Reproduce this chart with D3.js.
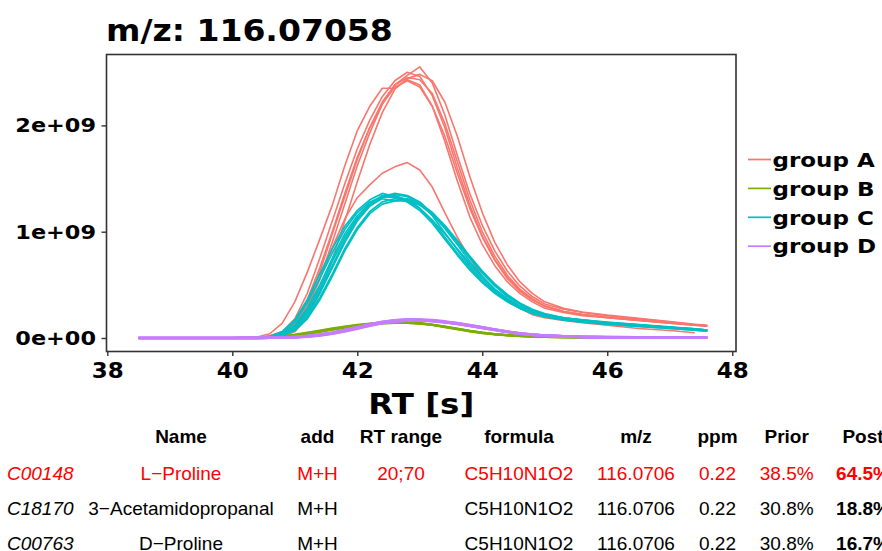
<!DOCTYPE html>
<html>
<head>
  <meta charset="utf-8">
  <script src="https://d3js.org/d3.v7.min.js"></script>
  <style>
    body { margin: 0; background: #fff; }
    .bold { font-family: "DejaVu Sans", sans-serif; font-weight: bold; fill: #000; }
    .tbl { font-family: "Liberation Sans", Arial, sans-serif; font-size: 19px; }
  </style>
</head>
<body>
<div id="chart"></div>
<script>
  // retention time grid (s) shared by all traces
  const rt = [38.5, 40.0, 40.4, 40.6, 40.8, 41.0, 41.2, 41.4, 41.6, 41.8, 42.0, 42.2, 42.4, 42.6, 42.8, 43.0,
    43.2, 43.4, 43.6, 43.8, 44.0, 44.2, 44.4, 44.6, 44.8, 45.0, 45.3, 45.6, 46.0, 46.5, 47.0, 47.4, 47.6]

  // intensities in units of 1e9
  const groupA = [
    [0, 0, 0.005, 0.01, 0.03, 0.10, 0.28, 0.56, 0.90, 1.26, 1.62, 1.93, 2.20, 2.38, 2.47, 2.55, 2.40, 2.10, 1.72, 1.36, 1.06, 0.82, 0.63, 0.49, 0.39, 0.32, 0.27, 0.24, 0.21, 0.18, 0.15, 0.125, 0.115],
    [0, 0, 0.005, 0.02, 0.06, 0.18, 0.42, 0.75, 1.10, 1.45, 1.78, 2.05, 2.27, 2.42, 2.50, 2.46, 2.28, 1.98, 1.60, 1.25, 0.96, 0.74, 0.57, 0.45, 0.36, 0.30, 0.25, 0.22, 0.195, 0.17, 0.145, 0.125, 0.115],
    [0, 0, 0.01, 0.04, 0.14, 0.34, 0.62, 0.93, 1.25, 1.62, 1.95, 2.18, 2.35, 2.35, 2.43, 2.38, 2.18, 1.85, 1.48, 1.14, 0.88, 0.68, 0.53, 0.42, 0.34, 0.28, 0.24, 0.21, 0.19, 0.165, 0.14, 0.12, 0.11],
    [0, 0, 0.003, 0.015, 0.05, 0.15, 0.36, 0.66, 1.00, 1.36, 1.70, 1.98, 2.20, 2.36, 2.42, 2.36, 2.18, 1.90, 1.55, 1.22, 0.95, 0.73, 0.56, 0.44, 0.36, 0.30, 0.25, 0.22, 0.195, 0.17, 0.145, 0.125, 0.115],
    [0, 0, 0.002, 0.006, 0.02, 0.06, 0.19, 0.42, 0.74, 1.10, 1.47, 1.82, 2.12, 2.34, 2.44, 2.48, 2.42, 2.22, 1.90, 1.52, 1.18, 0.90, 0.69, 0.53, 0.42, 0.34, 0.28, 0.245, 0.215, 0.185, 0.155, 0.13, 0.12],
    [0, 0, 0.004, 0.012, 0.04, 0.13, 0.33, 0.62, 0.98, 1.33, 1.68, 1.98, 2.22, 2.38, 2.45, 2.43, 2.30, 2.02, 1.66, 1.30, 1.00, 0.77, 0.59, 0.46, 0.37, 0.30, 0.25, 0.22, 0.19, 0.165, 0.14, 0.12, 0.11],
    [0, 0, 0, 0.01, 0.04, 0.12, 0.30, 0.55, 0.85, 1.12, 1.32, 1.44, 1.55, 1.61, 1.65, 1.58, 1.42, 1.18, 0.95, 0.75, 0.58, 0.45, 0.35, 0.28, 0.22, 0.19, 0.165, 0.145, 0.12, 0.09, 0.07, 0.05, null]
  ]
  const groupB = [
    [0, 0, 0.002, 0.006, 0.014, 0.028, 0.045, 0.065, 0.085, 0.105, 0.12, 0.133, 0.142, 0.146, 0.145, 0.14, 0.126, 0.108, 0.088, 0.068, 0.05, 0.037, 0.027, 0.02, 0.015, 0.011, 0.008, 0.006, 0.004, 0.003, 0.003, 0.002, 0.002],
    [0, 0, 0.001, 0.004, 0.01, 0.022, 0.038, 0.057, 0.078, 0.098, 0.115, 0.128, 0.138, 0.142, 0.142, 0.136, 0.122, 0.104, 0.084, 0.065, 0.048, 0.035, 0.026, 0.019, 0.014, 0.01, 0.007, 0.005, 0.004, 0.003, 0.002, 0.002, 0.002],
    [0, 0, 0.002, 0.007, 0.016, 0.031, 0.05, 0.07, 0.09, 0.108, 0.124, 0.136, 0.145, 0.148, 0.146, 0.138, 0.122, 0.102, 0.082, 0.062, 0.046, 0.034, 0.025, 0.018, 0.013, 0.01, 0.007, 0.005, 0.004, 0.003, 0.002, 0.002, 0.002],
    [0, 0, 0.001, 0.005, 0.012, 0.025, 0.042, 0.061, 0.081, 0.1, 0.117, 0.13, 0.139, 0.143, 0.143, 0.138, 0.125, 0.107, 0.087, 0.067, 0.05, 0.037, 0.027, 0.02, 0.015, 0.011, 0.008, 0.006, 0.005, 0.004, 0.003, 0.003, 0.003]
  ]
  const groupC = [
    [0, 0, 0, 0.01, 0.04, 0.12, 0.28, 0.50, 0.75, 0.98, 1.15, 1.27, 1.33, 1.36, 1.34, 1.28, 1.17, 1.03, 0.88, 0.72, 0.58, 0.46, 0.37, 0.30, 0.25, 0.21, 0.18, 0.16, 0.14, 0.12, 0.10, 0.08, 0.07],
    [0, 0, 0, 0.008, 0.03, 0.09, 0.22, 0.42, 0.66, 0.90, 1.10, 1.24, 1.32, 1.35, 1.33, 1.27, 1.18, 1.05, 0.90, 0.75, 0.61, 0.49, 0.39, 0.32, 0.26, 0.22, 0.19, 0.165, 0.145, 0.12, 0.10, 0.085, 0.075],
    [0, 0, 0.002, 0.012, 0.05, 0.15, 0.33, 0.56, 0.80, 1.02, 1.18, 1.28, 1.33, 1.32, 1.28, 1.20, 1.08, 0.93, 0.78, 0.64, 0.52, 0.42, 0.34, 0.28, 0.23, 0.20, 0.17, 0.15, 0.13, 0.11, 0.09, 0.075, 0.065],
    [0, 0, 0, 0.006, 0.025, 0.08, 0.20, 0.38, 0.60, 0.84, 1.04, 1.19, 1.28, 1.31, 1.30, 1.26, 1.18, 1.06, 0.92, 0.77, 0.63, 0.51, 0.41, 0.33, 0.27, 0.23, 0.19, 0.17, 0.145, 0.125, 0.105, 0.085, 0.075],
    [0, 0, 0.001, 0.01, 0.04, 0.11, 0.26, 0.47, 0.72, 0.95, 1.13, 1.25, 1.31, 1.29, 1.31, 1.27, 1.15, 0.99, 0.83, 0.68, 0.55, 0.44, 0.36, 0.29, 0.24, 0.21, 0.18, 0.16, 0.14, 0.12, 0.10, 0.08, 0.07],
    [0, 0, 0, 0.007, 0.03, 0.10, 0.24, 0.44, 0.68, 0.92, 1.12, 1.26, 1.34, 1.34, 1.30, 1.22, 1.11, 0.98, 0.84, 0.70, 0.57, 0.46, 0.37, 0.30, 0.25, 0.21, 0.18, 0.16, 0.14, 0.12, 0.10, 0.08, 0.07],
    [0, 0, 0, 0.005, 0.02, 0.07, 0.18, 0.36, 0.58, 0.82, 1.02, 1.17, 1.26, 1.29, 1.29, 1.25, 1.16, 1.04, 0.90, 0.76, 0.62, 0.50, 0.40, 0.32, 0.26, 0.22, 0.19, 0.17, 0.15, 0.125, 0.10, 0.085, 0.075],
    [0, 0, 0.002, 0.015, 0.06, 0.17, 0.36, 0.60, 0.84, 1.05, 1.20, 1.30, 1.36, 1.33, 1.29, 1.22, 1.10, 0.95, 0.80, 0.66, 0.53, 0.43, 0.35, 0.28, 0.23, 0.20, 0.17, 0.15, 0.13, 0.11, 0.09, 0.075, 0.065]
  ]
  const groupD = [
    [0, 0, 0.001, 0.002, 0.004, 0.008, 0.016, 0.028, 0.045, 0.068, 0.095, 0.122, 0.145, 0.16, 0.168, 0.168, 0.162, 0.15, 0.135, 0.117, 0.098, 0.078, 0.058, 0.042, 0.03, 0.022, 0.015, 0.01, 0.007, 0.005, 0.004, 0.004, 0.004],
    [0, 0, 0.001, 0.003, 0.005, 0.01, 0.019, 0.032, 0.05, 0.074, 0.101, 0.128, 0.151, 0.166, 0.174, 0.174, 0.168, 0.156, 0.14, 0.121, 0.101, 0.08, 0.06, 0.044, 0.032, 0.023, 0.016, 0.011, 0.008, 0.006, 0.005, 0.004, 0.004],
    [0, 0, 0.001, 0.002, 0.003, 0.006, 0.013, 0.024, 0.04, 0.062, 0.088, 0.115, 0.138, 0.154, 0.163, 0.164, 0.158, 0.147, 0.132, 0.114, 0.095, 0.075, 0.056, 0.04, 0.029, 0.021, 0.014, 0.01, 0.007, 0.005, 0.004, 0.003, 0.003],
    [0, 0, 0.001, 0.002, 0.004, 0.009, 0.017, 0.03, 0.047, 0.071, 0.098, 0.125, 0.148, 0.163, 0.171, 0.17, 0.163, 0.15, 0.134, 0.115, 0.095, 0.076, 0.057, 0.041, 0.03, 0.022, 0.015, 0.01, 0.007, 0.005, 0.004, 0.004, 0.004],
    [0, 0, 0.001, 0.002, 0.005, 0.011, 0.02, 0.034, 0.052, 0.077, 0.104, 0.13, 0.152, 0.167, 0.173, 0.171, 0.164, 0.153, 0.138, 0.12, 0.1, 0.08, 0.06, 0.044, 0.032, 0.023, 0.016, 0.011, 0.008, 0.006, 0.005, 0.005, 0.005],
    [0, 0, 0.001, 0.002, 0.003, 0.007, 0.014, 0.025, 0.042, 0.065, 0.091, 0.118, 0.141, 0.157, 0.166, 0.167, 0.161, 0.149, 0.134, 0.116, 0.097, 0.077, 0.058, 0.042, 0.03, 0.022, 0.015, 0.01, 0.007, 0.005, 0.004, 0.004, 0.004]
  ]

  const groupNames = ["group A", "group B", "group C", "group D"]
  const groupColors = ["#F8766D", "#7CAE00", "#00BFC4", "#C77CFF"]
  const groupWidths = [1.6, 2.2, 1.7, 2.6]
  const xTicks = [38, 40, 42, 44, 46, 48]
  const yTicks = [0, 1, 2]
  const yTickLabels = ["0e+00", "1e+09", "2e+09"]

  // candidate table
  const tblHeader = ["", "Name", "add", "RT range", "formula", "m/z", "ppm", "Prior", "Post"]
  const ids = ["C00148", "C18170", "C00763"]
  const names = ["L\u2212Proline", "3\u2212Acetamidopropanal", "D\u2212Proline"]
  const adducts = ["M+H", "M+H", "M+H"]
  const rtRanges = ["20;70", "", ""]
  const formulas = ["C5H10N1O2", "C5H10N1O2", "C5H10N1O2"]
  const mzs = ["116.0706", "116.0706", "116.0706"]
  const ppms = ["0.22", "0.22", "0.22"]
  const priors = ["38.5%", "30.8%", "30.8%"]
  const posts = ["64.5%", "18.8%", "16.7%"]

  const width = 882
  const height = 551
  const panel = { left: 106.5, right: 736, top: 54.5, bottom: 351.5 }
  const sx = 1.12   // glyphs in the picture are a bit wider than tall

  const svg = d3.select("#chart").append("svg")
    .attr("width", width)
    .attr("height", height)

  const x = d3.scaleLinear().domain([37.987, 48.06]).range([panel.left, panel.right])
  const y = d3.scaleLinear().domain([-0.127, 2.667]).range([panel.bottom, panel.top])

  // title
  svg.append("text")
    .attr("class", "bold")
    .attr("transform", `translate(106, 40.7) scale(${sx},1)`)
    .style("font-size", "29.5px")
    .text("m/z: 116.07058")

  // traces
  const line = d3.line()
    .defined(d => d[1] != null)
    .x(d => x(d[0]))
    .y(d => y(d[1]))

  const groups = [groupA, groupB, groupC, groupD]
  groups.forEach((traces, gi) => {
    svg.append("g")
      .selectAll("path")
      .data(traces)
      .join("path")
      .attr("d", vals => line(rt.map((t, i) => [t, vals[i]])))
      .attr("fill", "none")
      .attr("stroke", groupColors[gi])
      .attr("stroke-width", groupWidths[gi])
      .attr("stroke-linejoin", "round")
  })

  // panel border
  svg.append("rect")
    .attr("x", panel.left)
    .attr("y", panel.top)
    .attr("width", panel.right - panel.left)
    .attr("height", panel.bottom - panel.top)
    .attr("fill", "none")
    .attr("stroke", "#333")
    .attr("stroke-width", 1.6)

  // axes
  const xAxis = svg.append("g")
    .attr("transform", `translate(0, ${panel.bottom})`)
    .call(d3.axisBottom(x).tickValues(xTicks).tickSize(4.5).tickPadding(7.3).tickFormat(d3.format("d")))
  xAxis.select(".domain").remove()
  xAxis.selectAll("line").attr("stroke", "#333").attr("stroke-width", 1.4)
  xAxis.selectAll("text")
    .attr("class", "bold")
    .attr("transform", `scale(${sx},1)`)
    .style("font-size", "20.5px")

  const yAxis = svg.append("g")
    .attr("transform", `translate(${panel.left}, 0)`)
    .call(d3.axisLeft(y).tickValues(yTicks).tickSize(5).tickPadding(10).tickFormat((d, i) => yTickLabels[i]))
  yAxis.select(".domain").remove()
  yAxis.selectAll("line").attr("stroke", "#333").attr("stroke-width", 1.4)
  yAxis.selectAll("text")
    .attr("class", "bold")
    .attr("transform", `scale(${sx},1)`)
    .attr("x", -10.5 / sx)
    .style("font-size", "20px")

  // axis title
  svg.append("text")
    .attr("class", "bold")
    .attr("transform", `translate(${(panel.left + panel.right) / 2}, 414) scale(${sx},1)`)
    .attr("text-anchor", "middle")
    .style("font-size", "29px")
    .text("RT [s]")

  // legend
  const legend = svg.append("g").attr("transform", "translate(748, 159.5)")
  const items = legend.selectAll("g")
    .data(groupNames)
    .join("g")
    .attr("transform", (d, i) => `translate(0, ${i * 28.9})`)
  items.append("line")
    .attr("x1", 0).attr("x2", 23)
    .attr("stroke", (d, i) => groupColors[i])
    .attr("stroke-width", 1.7)
  items.append("text")
    .attr("class", "bold")
    .attr("transform", `translate(24.5, 7.2) scale(1.15,1)`)
    .style("font-size", "20px")
    .text(d => d)

  // table under the chart (last column runs off the right edge, as in the source)
  const colX = [7, 181, 317.5, 401, 519, 636, 717.5, 786.7, 863]
  const rowY = [442.7, 480, 515.3, 550]
  const tbl = svg.append("g").attr("class", "tbl")

  tbl.selectAll("text.head")
    .data(tblHeader)
    .join("text")
    .attr("class", "head")
    .attr("x", (d, i) => colX[i])
    .attr("y", rowY[0])
    .attr("text-anchor", "middle")
    .style("font-weight", "bold")
    .text(d => d)

  const rows = ids.map((id, i) => [id, names[i], adducts[i], rtRanges[i], formulas[i], mzs[i], ppms[i], priors[i], posts[i]])
  rows.forEach((cells, r) => {
    const col = r === 0 ? "#FF0000" : "#000"
    tbl.append("g")
      .selectAll("text")
      .data(cells)
      .join("text")
      .attr("x", (d, i) => colX[i])
      .attr("y", rowY[r + 1])
      .attr("text-anchor", (d, i) => i === 0 ? "start" : "middle")
      .attr("fill", col)
      .style("font-style", (d, i) => i === 0 ? "italic" : "normal")
      .style("font-weight", (d, i) => i === 8 ? "bold" : "normal")
      .text(d => d)
  })
</script>
</body>
</html>
